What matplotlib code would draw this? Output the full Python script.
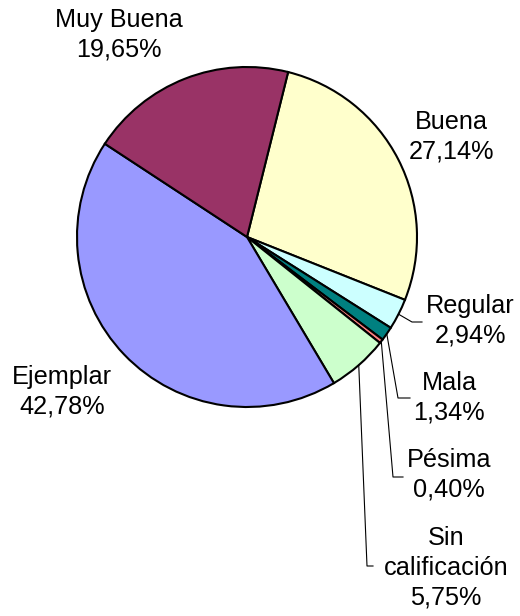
import numpy as np
from matplotlib import pyplot as plt

plt.rcParams['font.family'] = ['Liberation Sans', 'DejaVu Sans']

categories = ['Buena', 'Regular', 'Mala', 'Pésima', 'Sin\ncalificación', 'Ejemplar', 'Muy Buena']
values = [27.14, 2.94, 1.34, 0.40, 5.75, 42.78, 19.65]
colours = ['#FFFFCC', '#CCFFFF', '#008080', '#FF8080', '#CCFFCC', '#9999FF', '#993366']

# label positions in pixels (x, y from top), and elbow points for leader lines
label_pos = [(451, 137), (470, 321), (449, 398), (449, 475), (446, 568), (62, 392), (119, 35)]
elbows = [None, (412, 322), (398, 398), (393, 477), (367, 566), None, None]
label_ends = [None, (422, 322), (410, 398), (403, 477), (373, 566), None, None]

W, H = 520, 616
fig = plt.figure(figsize=(W / 100, H / 100), dpi=100)
ax = fig.add_axes([0, 0, 1, 1])

cx, cy, r = 247, H - 237, 170
wedges, _ = ax.pie(values, colors=colours, startangle=76, counterclock=False,
                   radius=r, center=(cx, cy), frame=True,
                   wedgeprops=dict(edgecolor='black', linewidth=1.5))
ax.set_xlim(0, W)
ax.set_ylim(0, H)
ax.set_aspect('equal')
ax.axis('off')

for i, w in enumerate(wedges):
    txt = f'{categories[i]}\n{values[i]:.2f}%'.replace('.', ',')
    lx, ly = label_pos[i]
    ax.text(lx, H - ly, txt, ha='center', va='center', fontsize=18.2,
            linespacing=1.3, multialignment='center')
    if elbows[i] is not None:
        ang = np.deg2rad((w.theta1 + w.theta2) / 2)
        sx, sy = cx + r * np.cos(ang), cy + r * np.sin(ang)
        ex, ey = elbows[i]
        fx, fy = label_ends[i]
        ax.plot([sx, ex, fx], [sy, H - ey, H - fy], color='black', linewidth=0.8)

fig.savefig('out.png', dpi=100)
